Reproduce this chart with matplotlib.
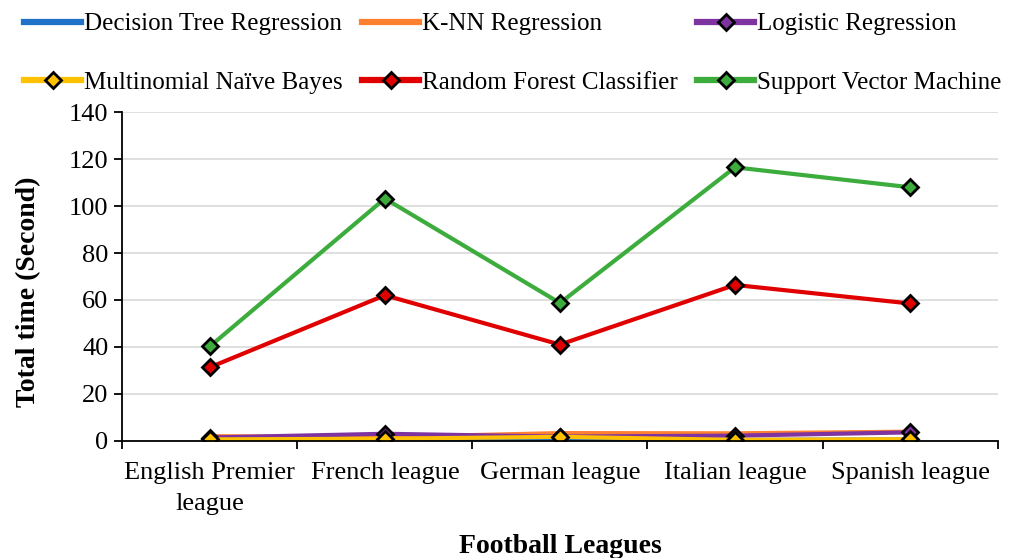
import matplotlib
matplotlib.use("Agg")
import matplotlib.pyplot as plt
import numpy as np

plt.rcParams['font.family'] = ['Liberation Serif', 'DejaVu Serif']

leagues = ["English Premier\nleague", "French league", "German league", "Italian league", "Spanish league"]
dt = [0.5, 0.4, 0.6, 0.4, 0.6]
knn = [2.0, 1.6, 3.3, 3.2, 3.9]
lr = [1.4, 3.0, 1.8, 2.2, 3.6]
mnb = [0.6, 0.9, 1.7, 0.4, 0.7]
rf = [31.3, 62.0, 41.0, 66.4, 58.5]
svm = [40.2, 103.2, 58.7, 116.5, 108.0]

fig = plt.figure(figsize=(10.19, 5.58), dpi=100)
ax = fig.add_axes([0.12, 0.21, 0.859, 0.589])

x = np.arange(len(leagues)) + 0.5
lw = 3
ms = 8.5
mew = 2
h_dt, = ax.plot(x, dt, color='#1f72c8', lw=lw, label='Decision Tree Regression')
h_knn, = ax.plot(x, knn, color='#ff8030', lw=lw, label='K-NN Regression')
h_lr, = ax.plot(x, lr, color='#7f33a0', lw=lw, marker='D', ms=ms, mfc='#7f33a0', mec='black', mew=mew, label='Logistic Regression')
h_mnb, = ax.plot(x, mnb, color='#ffc000', lw=lw, marker='D', ms=ms, mfc='#ffc000', mec='black', mew=mew, label='Multinomial Naïve Bayes')
h_rf, = ax.plot(x, rf, color='#e00000', lw=lw, marker='D', ms=ms, mfc='#e00000', mec='black', mew=mew, label='Random Forest Classifier')
h_svm, = ax.plot(x, svm, color='#3cac3c', lw=lw, marker='D', ms=ms, mfc='#3cac3c', mec='black', mew=mew, label='Support Vector Machine')

ax.set_xlim(0, len(leagues))
ax.set_ylim(0, 140)
ax.set_yticks(np.arange(0, 141, 20))
ax.set_xticks(x)
ax.set_xticklabels(leagues, fontsize=19, linespacing=1.55)
ax.set_xticks(np.arange(0, len(leagues) + 1), minor=True)
ax.tick_params(axis='x', which='major', length=0, pad=15)
ax.tick_params(axis='x', which='minor', length=6, width=1.3, direction='out')
ax.tick_params(axis='y', labelsize=19, length=6, width=1.3, direction='out', pad=4)
ax.grid(axis='y', color='#d9d9d9', lw=1.2)
ax.set_axisbelow(True)
for s in ['top', 'right']:
    ax.spines[s].set_visible(False)
for s in ['left', 'bottom']:
    ax.spines[s].set_linewidth(1.3)

ax.set_ylabel('Total time (Second)', fontsize=20, fontweight='bold')
ax.yaxis.set_label_coords(-0.093, 0.453)
ax.set_xlabel('Football Leagues', fontsize=20, fontweight='bold', labelpad=14)

handles = [h_dt, h_mnb, h_knn, h_rf, h_lr, h_svm]
leg = fig.legend(handles, [h.get_label() for h in handles], ncol=3, loc='upper left',
           bbox_to_anchor=(0.0137, 0.995), frameon=False, fontsize=18,
           labelspacing=1.45, columnspacing=0.75, handlelength=2.3, handletextpad=0.12,
           borderaxespad=0.0, borderpad=0.4)
for l in leg.get_lines():
    l.set_linewidth(4.5)

fig.savefig('out.png', dpi=100)
